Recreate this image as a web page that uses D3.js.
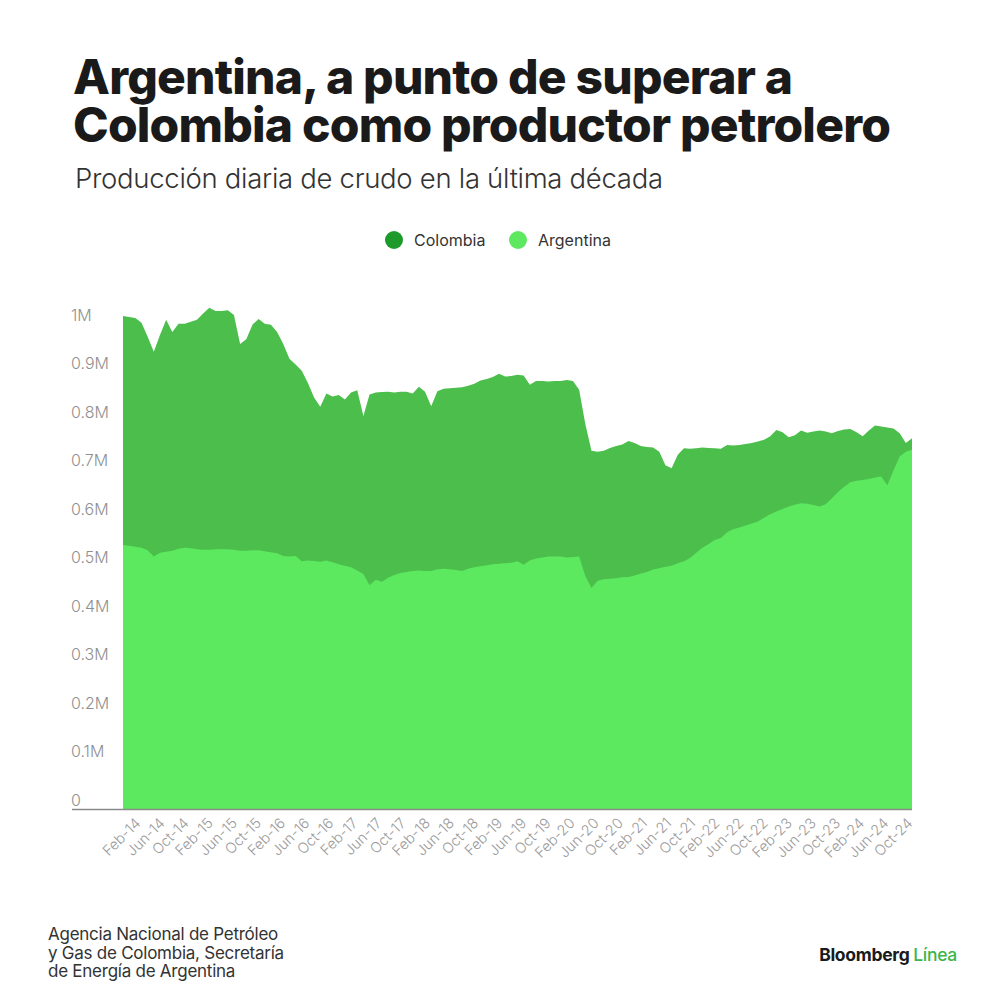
<!DOCTYPE html>
<html>
<head>
<meta charset="utf-8">
<script src="https://cdn.jsdelivr.net/npm/d3@7"></script>
<style>
  body { margin: 0; background: #fff; }
  text { font-family: Inter, "Noto Sans", sans-serif; }
</style>
</head>
<body>
<div id="chart"></div>
<script>
// producción diaria, miles de barriles por día, Feb-14 .. Oct-24 (mensual)
const colombia = [
  998, 996, 994, 984, 955, 924, 959, 990, 965, 982,
  982, 986, 990, 1003, 1015, 1008, 1008, 1010, 1000, 940,
  950, 980, 992, 982, 980, 965, 940, 910, 898, 885,
  860, 830, 811, 838, 832, 835, 826, 840, 845, 792,
  836, 840, 841, 842, 840, 842, 842, 838, 852, 842,
  812, 843, 848, 849, 850, 851, 854, 858, 865, 868,
  872, 879, 873, 874, 877, 875, 856, 864, 864, 863,
  864, 864, 866, 864, 846, 775, 720, 718, 720, 726,
  730, 733, 740, 736, 730, 728, 727, 718, 690, 684,
  712, 725, 724, 725, 727, 726, 725, 724, 732, 731,
  732, 734, 736, 739, 743, 750, 763, 758, 748, 752,
  762, 757, 760, 762, 760, 756, 761, 764, 765, 758,
  750, 762, 772, 770, 768, 766, 756, 736, 746
];
const argentina = [
  526, 524, 522, 520, 515, 502, 510, 512, 514, 518,
  520, 519, 517, 516, 516, 517, 517, 517, 516, 514,
  514, 515, 515, 513, 511, 509, 503, 502, 503, 492,
  494, 493, 491, 494, 490, 486, 483, 480, 473, 466,
  443, 454, 450, 458, 464, 468, 470, 472, 473, 472,
  472, 476, 477, 476, 474, 472, 477, 480, 482, 484,
  486, 487, 488, 489, 492, 485, 494, 498, 500, 502,
  502, 502, 500, 501, 502, 462, 437, 452, 455, 456,
  457, 459, 460, 463, 467, 470, 475, 478, 481, 483,
  488, 492, 499, 510, 520, 528, 536, 540, 552, 558,
  562, 566, 570, 574, 582, 589, 595, 600, 605, 609,
  612, 611, 608, 605, 610, 622, 635, 646, 655, 658,
  660, 662, 665, 667, 649, 680, 708, 718, 722
];
const tickLabels = [
  "Feb-14", "Jun-14", "Oct-14", "Feb-15", "Jun-15", "Oct-15",
  "Feb-16", "Jun-16", "Oct-16", "Feb-17", "Jun-17", "Oct-17",
  "Feb-18", "Jun-18", "Oct-18", "Feb-19", "Jun-19", "Oct-19",
  "Feb-20", "Jun-20", "Oct-20", "Feb-21", "Jun-21", "Oct-21",
  "Feb-22", "Jun-22", "Oct-22", "Feb-23", "Jun-23", "Oct-23",
  "Feb-24", "Jun-24", "Oct-24"
];
const yTicks = [0, 100, 200, 300, 400, 500, 600, 700, 800, 900, 1000];
const seriesNames = ["Colombia", "Argentina"];
const areaColors = ["#4cbe4c", "#5ce85f"];
const dotColors = ["#1c9b2a", "#5de85f"];

const margin = { top: 315, right: 88, bottom: 191, left: 123 };
const width = 1000 - margin.left - margin.right;
const height = 1000 - margin.top - margin.bottom;

const root = d3.select("#chart")
    .append("svg")
    .attr("width", 1000)
    .attr("height", 1000);

// titulo (un solo text con dos lineas)
const title = root.append("text")
    .attr("y", 94)
    .style("font-size", "48px").style("font-weight", "800")
    .style("letter-spacing", "-0.8px").attr("fill", "#1a1a1a");
["Argentina, a punto de superar a", "Colombia como productor petrolero"]
    .forEach((t, i) => title.append("tspan").attr("x", 73).attr("dy", i === 0 ? 0 : 47.5).text(t));

root.append("text")
    .attr("x", 75).attr("y", 188)
    .style("font-size", "27.5px").style("font-weight", "300")
    .style("letter-spacing", "-0.3px")
    .attr("fill", "#333")
    .text("Producción diaria de crudo en la última década");

// leyenda
const legend = root.append("g").attr("transform", "translate(394, 240)");
const legendItems = legend.selectAll("g")
    .data(seriesNames)
    .enter()
    .append("g")
    .attr("transform", (d, i) => `translate(${i * 124}, 0)`);
legendItems.append("circle")
    .attr("r", 9)
    .attr("fill", (d, i) => dotColors[i]);
legendItems.append("text")
    .attr("x", 20).attr("y", 6)
    .style("font-size", "16px").attr("fill", "#333")
    .text(d => d);

const svg = root.append("g")
    .attr("transform", `translate(${margin.left}, ${margin.top})`);

const x = d3.scaleLinear().domain([0, colombia.length - 1]).range([0, width]);
const y = d3.scaleLinear().domain([-18.6, 1000]).range([height, 0]);

const area = d3.area()
    .x((d, i) => x(i))
    .y0(height)
    .y1(d => y(d));

svg.selectAll(".serie")
    .data([colombia, argentina])
    .enter()
    .append("path")
    .attr("class", "serie")
    .attr("fill", (d, i) => areaColors[i])
    .attr("d", area);

// eje y
const yAxis = svg.append("g")
    .call(d3.axisLeft(y)
        .tickValues(yTicks)
        .tickSize(0)
        .tickFormat(d => d === 0 ? "0" : d === 1000 ? "1M" : (d / 1000) + "M"));
yAxis.select(".domain").remove();
yAxis.selectAll("text")
    .attr("x", -52)
    .attr("text-anchor", "start")
    .style("font-family", "Inter, sans-serif")
    .style("font-size", "16px")
    .style("font-weight", "300")
    .attr("fill", "#8f8f8f");

// linea base
svg.append("line")
    .attr("x1", -51).attr("x2", width)
    .attr("y1", height + 0.5).attr("y2", height + 0.5)
    .attr("stroke", "#8a8a8a").attr("stroke-width", 1.5);

// eje x: las etiquetas van en su propia escala de puntos
const xLabels = d3.scalePoint().domain(tickLabels).range([20, width + 3]);
const xAxis = svg.append("g")
    .attr("transform", `translate(0, ${height})`)
    .call(d3.axisBottom(xLabels).tickSize(0));
xAxis.select(".domain").remove();
xAxis.selectAll("text")
    .attr("y", 0).attr("dy", null)
    .attr("text-anchor", "end")
    .attr("transform", "translate(-2, 15) rotate(-45)")
    .style("font-family", "Inter, sans-serif")
    .style("font-size", "14.5px")
    .style("font-weight", "300")
    .attr("fill", "#9a9a9a");

// fuente
const source = root.append("text")
    .attr("x", 48).attr("y", 940)
    .style("font-size", "17px").style("letter-spacing", "-0.25px")
    .attr("fill", "#333");
["Agencia Nacional de Petróleo", "y Gas de Colombia, Secretaría", "de Energía de Argentina"]
    .forEach((t, i) => source.append("tspan").attr("x", 48).attr("dy", i === 0 ? 0 : 18.5).text(t));

const brand = root.append("text")
    .attr("x", 957).attr("y", 961)
    .attr("text-anchor", "end")
    .style("font-size", "17.5px").style("font-weight", "700")
    .style("letter-spacing", "-0.3px");
brand.append("tspan").attr("fill", "#1a1a1a").text("Bloomberg ");
brand.append("tspan").attr("fill", "#3bb54a").style("font-weight", "500").text("Línea");
</script>
</body>
</html>
